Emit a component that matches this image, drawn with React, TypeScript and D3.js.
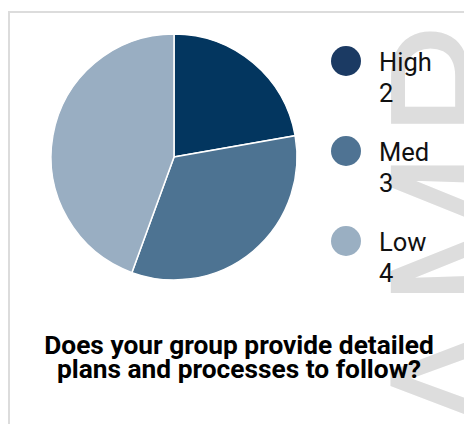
import React, { useEffect, useRef } from 'react';
import * as d3 from 'd3';

const categories = ['High', 'Med', 'Low'];
const values = [2, 3, 4];
const sliceColors = ['#03365f', '#4d7392', '#99aec2'];
const dotColors = ['#1b3a63', '#4f7393', '#9aafc2'];
const titleLines = ['Does your group provide detailed', 'plans and processes to follow?'];
const watermark = 'SAMPLE';

const W = 464;
const H = 424;

export default function App() {
  const svgRef = useRef<SVGSVGElement>(null);

  useEffect(() => {
    if (!svgRef.current) return;
    const svg = d3.select(svgRef.current);
    svg.selectAll('*').remove();

    // clip for the card interior
    svg.append('defs').append('clipPath').attr('id', 'card')
      .append('rect').attr('x', 10).attr('y', 13).attr('width', 500).attr('height', 500);

    // card border
    svg.append('rect')
      .attr('x', 9).attr('y', 12).attr('width', 520).attr('height', 520)
      .attr('fill', '#fff').attr('stroke', '#dcdcdc').attr('stroke-width', 2);

    // watermark
    svg.append('g').attr('clip-path', 'url(#card)')
      .append('text')
      .attr('transform', 'translate(519,556) rotate(-90)')
      .attr('font-family', 'Roboto, sans-serif')
      .attr('font-size', 180)
      .attr('letter-spacing', 12)
      .attr('fill', '#dddddd')
      .text(watermark);

    // pie
    const cx = 174, cy = 157, r = 123;
    const pie = d3.pie<number>().sort(null).value(d => d);
    const arc = d3.arc<d3.PieArcDatum<number>>().innerRadius(0).outerRadius(r);
    svg.append('g').attr('transform', `translate(${cx},${cy})`)
      .selectAll('path')
      .data(pie(values))
      .enter().append('path')
      .attr('d', arc)
      .attr('fill', (_, i) => sliceColors[i])
      .attr('stroke', '#fff')
      .attr('stroke-width', 1.5);

    // legend
    const y = d3.scalePoint<string>().domain(categories).range([61, 241]);
    const leg = svg.append('g')
      .selectAll('g')
      .data(categories)
      .enter().append('g')
      .attr('transform', d => `translate(346,${y(d)})`);
    leg.append('circle').attr('r', 15).attr('fill', (_, i) => dotColors[i]);
    leg.append('text')
      .attr('x', 33).attr('y', 10)
      .attr('font-family', 'Roboto, sans-serif').attr('font-size', 25.5)
      .attr('fill', '#111')
      .text(d => d);
    leg.append('text')
      .attr('x', 33).attr('y', 40.5)
      .attr('font-family', 'Roboto, sans-serif').attr('font-size', 25.5)
      .attr('fill', '#111')
      .text((_, i) => String(values[i]));

    // title
    svg.append('g')
      .selectAll('text')
      .data(titleLines)
      .enter().append('text')
      .attr('x', 239)
      .attr('y', (_, i) => 353.5 + i * 24.5)
      .attr('text-anchor', 'middle')
      .attr('font-family', 'Roboto, sans-serif')
      .attr('font-weight', 'bold')
      .attr('font-size', 26.3)
      .attr('fill', '#000')
      .text(d => d);
  }, []);

  return (
    <div style={{ position: 'absolute', left: 0, top: 0, width: W, height: H, overflow: 'hidden' }}>
      <svg ref={svgRef} width={W} height={H} style={{ display: 'block' }} />
    </div>
  );
}
